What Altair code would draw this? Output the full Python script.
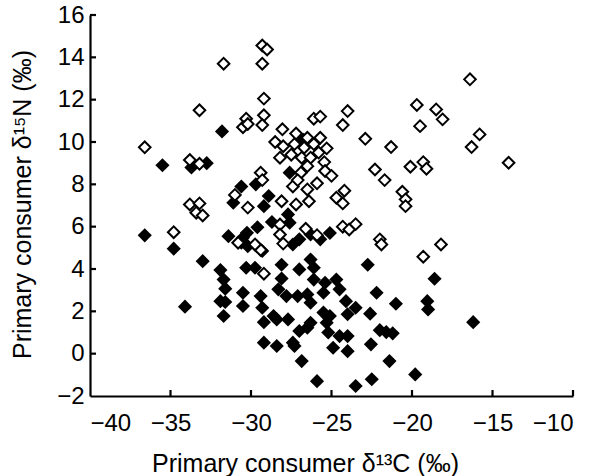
import altair as alt
import pandas as pd

# Open diamonds (upper group)
open_x = [-36.6, -33.2, -31.7, -33.8, -33.2, -33.8, -33.2, -33.4, -33.0, -31.0, -34.8,
          -29.3, -29.0, -29.3, -29.2, -29.2, -30.3, -30.5, -30.2, -29.3,
          -26.1, -25.7, -24.0, -24.3, -22.9, -28.05, -28.5, -28.0, -27.2, -26.5,
          -25.7, -27.3, -26.7, -26.1, -25.3, -28.2, -27.5, -26.85, -26.3, -25.8,
          -25.45, -26.5, -26.9, -25.4, -25.0, -29.4, -29.3, -27.4, -27.1, -26.5,
          -25.9, -24.2, -24.7, -24.3, -28.1, -27.2, -26.4, -30.2,
          -16.4, -19.7, -18.5, -18.1, -19.5, -15.8, -16.3, -14.0, -21.3, -22.3,
          -21.7, -20.1, -19.3, -19.1, -20.6, -20.4, -20.4, -22.0, -21.9, -19.3,
          -18.2, -26.6, -25.9, -24.3, -23.9, -23.5, -30.8, -29.4, -29.75, -28.2,
          -28.2, -28.0, -29.2]
open_y = [9.75, 11.5, 13.7, 9.15, 8.97, 7.05, 7.1, 6.66, 6.53, 7.5, 5.74,
          14.56, 14.37, 13.7, 12.05, 11.26, 11.1, 10.7, 10.85, 10.8,
          11.1, 11.2, 11.46, 10.8, 10.15, 10.6, 10.0, 9.8, 10.4, 10.2,
          10.2, 9.9, 9.73, 9.9, 9.7, 9.26, 9.4, 9.26, 9.26, 9.5,
          9.05, 8.86, 8.55, 8.63, 8.4, 8.55, 8.2, 7.9, 8.2, 7.76,
          8.05, 7.7, 7.37, 7.1, 7.2, 7.05, 7.2, 6.9,
          12.96, 11.75, 11.54, 11.07, 10.75, 10.36, 9.76, 9.02, 9.76, 8.7,
          8.2, 8.83, 9.05, 8.74, 7.65, 7.29, 6.97, 5.4, 5.16, 4.58,
          5.16, 5.9, 5.6, 6.0, 5.87, 6.12, 5.24, 4.9, 5.16, 6.1,
          5.63, 5.2, 3.78]

# Filled diamonds (lower group)
filled_x = [-31.8, -35.5, -33.7, -32.75, -26.75, -27.6, -29.7, -30.6, -28.9, -29.2,
            -31.1, -36.6, -34.8, -33.0, -31.9, -31.7, -31.6, -34.1, -31.9, -31.6,
            -31.7, -31.4, -30.6, -30.5, -30.25, -30.2, -29.6, -29.65, -29.3, -28.7,
            -27.7, -27.6, -27.4, -27.0, -26.3, -25.7, -25.1, -30.3, -29.75, -28.1,
            -28.1, -28.3, -27.0, -26.3, -26.1, -26.1, -25.4, -24.7, -24.5, -25.5,
            -24.1, -23.5, -24.0, -30.5, -30.5, -29.4, -29.3, -27.8, -27.1, -26.5,
            -26.3, -29.2, -28.6, -28.4, -27.7, -29.2, -28.4, -27.4, -27.3, -26.85,
            -25.9, -26.3, -26.5, -27.0, -25.5, -25.1, -25.2, -24.9, -24.5, -24.0,
            -24.0, -25.3, -23.5, -22.5, -19.8, -21.4, -22.55, -22.0, -21.6, -21.2,
            -22.6, -21.0, -19.05, -19.0, -16.2, -18.6, -22.2, -22.75]
filled_y = [10.5, 8.9, 8.8, 9.0, 10.1, 8.55, 8.0, 7.9, 7.45, 6.97,
            7.13, 5.59, 4.96, 4.37, 3.95, 3.5, 3.07, 2.22, 2.48, 2.44,
            1.78, 5.55, 5.24, 5.48, 5.71, 5.08, 5.97, 5.08, 4.85, 6.22,
            6.58, 6.19, 5.16, 5.4, 5.63, 5.4, 5.7, 4.06, 4.06, 4.2,
            3.55, 3.04, 3.98, 4.45, 4.06, 3.5, 3.35, 3.5, 3.04, 2.88,
            2.48, 2.17, 1.86, 2.88, 2.25, 2.72, 2.17, 2.72, 2.72, 2.8,
            2.41, 1.49, 1.78, 1.62, 1.62, 0.52, 0.36, 0.52, 0.36, -0.35,
            -1.3, 1.46, 1.23, 1.07, 1.94, 1.78, 1.0, 0.28, 0.83, 0.83,
            0.12, 1.46, -1.53, -1.21, -0.98, -0.35, 0.44, 1.11, 1.02, 0.96,
            1.89, 2.36, 2.48, 2.09, 1.49, 3.54, 2.88, 4.2]

x_ticks = [-40, -35, -30, -25, -20, -15, -10]
y_ticks = [-2, 0, 2, 4, 6, 8, 10, 12, 14, 16]

FONT = "Liberation Sans"
W, H = 483, 381

open_df = pd.DataFrame({"x": open_x, "y": open_y})
filled_df = pd.DataFrame({"x": filled_x, "y": filled_y})
xt_df = pd.DataFrame({"x": x_ticks[1:]})
yt_df = pd.DataFrame({"y": y_ticks[1:]})

xaxis = alt.Axis(values=x_ticks, title="Primary consumer δ¹³C (‰)", grid=False,
                 domainColor="black", domainWidth=2.2, tickSize=0, labelPadding=15,
                 labelFont=FONT, labelFontSize=24, labelColor="black",
                 titleFont=FONT, titleFontSize=25, titleFontWeight="normal", titleColor="black",
                 titleX=215, titleY=75, titleBaseline="alphabetic", titleAnchor="middle")
yaxis = alt.Axis(values=y_ticks, title="Primary consumer δ¹⁵N (‰)", grid=False,
                 domainColor="black", domainWidth=2.2, tickSize=0, labelPadding=6,
                 labelFont=FONT, labelFontSize=24, labelColor="black",
                 titleFont=FONT, titleFontSize=25, titleFontWeight="normal", titleColor="black",
                 titleX=-68, titleY=189, titleBaseline="middle", titleAngle=270, titleAnchor="middle")

xenc = alt.X("x:Q", scale=alt.Scale(domain=[-40, -10], nice=False, zero=False), axis=xaxis)
yenc = alt.Y("y:Q", scale=alt.Scale(domain=[-2, 16], nice=False, zero=False), axis=yaxis)

filled_layer = alt.Chart(filled_df).mark_point(
    shape="diamond", filled=True, color="black", size=200, opacity=1
).encode(x=xenc, y=yenc)

open_layer = alt.Chart(open_df).mark_point(
    shape="diamond", fill="white", stroke="black", strokeWidth=2, size=135, opacity=1, fillOpacity=1
).encode(x=xenc, y=yenc)

xtick_layer = alt.Chart(xt_df).mark_rule(color="black", strokeWidth=2.2).encode(
    x=xenc, y=alt.value(H), y2=alt.value(H - 6))
ytick_layer = alt.Chart(yt_df).mark_rule(color="black", strokeWidth=2.2).encode(
    y=yenc, x=alt.value(0), x2=alt.value(6))

chart = alt.layer(filled_layer, open_layer, xtick_layer, ytick_layer).properties(
    width=W, height=H,
    padding={"left": 90, "top": 15, "right": 18, "bottom": 80},
    autosize=alt.AutoSizeParams(type="none"),
    background="white",
).configure_view(stroke=None)

chart.save("out.html", embed_options={"renderer": "svg", "actions": False})
